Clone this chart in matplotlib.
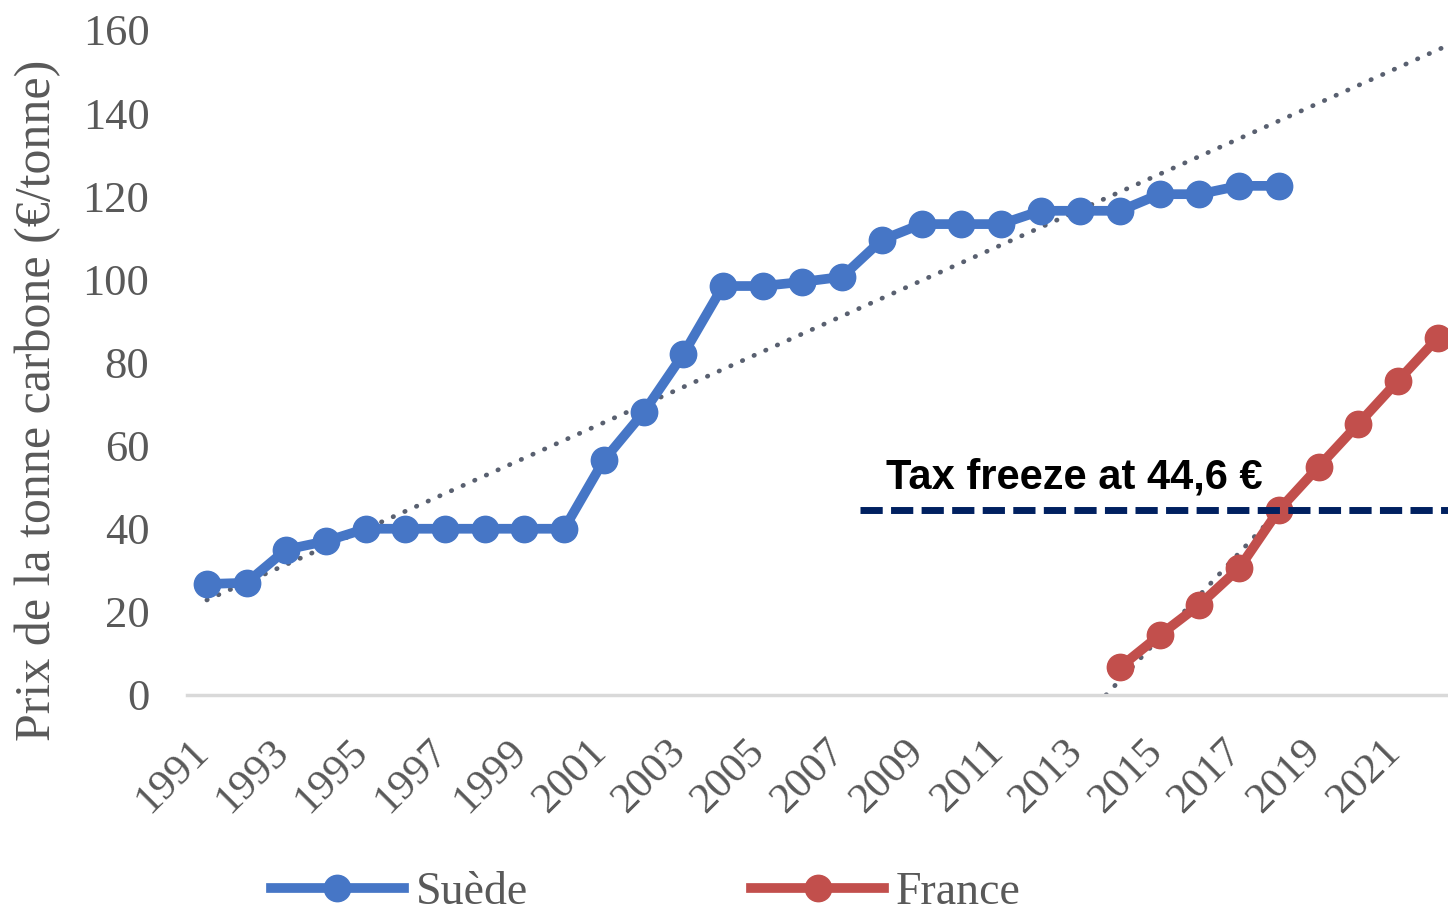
import numpy as np
import matplotlib
matplotlib.use('Agg')
import matplotlib.pyplot as plt
import matplotlib.transforms as mtransforms

# Carbon tax values (EUR / tonne)
years_se = list(range(1991, 2019))
suede = [26.7, 27.0, 35.0, 37.0, 40.0, 40.0, 40.0, 40.0, 40.0, 40.0,
         56.5, 68.0, 82.0, 98.4, 98.4, 99.4, 100.6, 109.5, 113.3, 113.3,
         113.3, 116.5, 116.5, 116.5, 120.5, 120.5, 122.5, 122.5]
years_fr = list(range(2014, 2023))
france = [6.7, 14.4, 21.7, 30.5, 44.5, 54.9, 65.2, 75.6, 85.9]
freeze_value = 44.6
xtick_years = list(range(1991, 2023, 2))
yticks = [0, 20, 40, 60, 80, 100, 120, 140, 160]

BLUE = '#4676C6'
RED = '#C24F4C'
GREY_TXT = '#595959'
NAVY = '#002060'
TREND = '#596070'

fig = plt.figure(figsize=(14.48, 9.13), dpi=100)
ax = fig.add_axes([187 / 1448, 1 - 695 / 913, 1 - 187 / 1448, (695 - 30) / 913])

x_min, x_max = 1990.5, 2022.26

# linear trendlines (Excel-style)
p_se = np.polyfit(years_se, suede, 1)
t_se = np.array([1991, x_max])
ax.plot(t_se, np.polyval(p_se, t_se), color=TREND, lw=3.4, ls=(0, (0.1, 2.6)),
        dash_capstyle='round', zorder=2)
p_fr = np.polyfit(years_fr, france, 1)
t_fr = np.array([-p_fr[1] / p_fr[0], x_max])
ax.plot(t_fr, np.polyval(p_fr, t_fr), color=TREND, lw=3.4, ls=(0, (0.1, 2.6)),
        dash_capstyle='round', zorder=2)

ax.plot(years_se, suede, color=BLUE, lw=7, marker='o', ms=19, label='Suède', zorder=3)
ax.plot(years_fr, france, color=RED, lw=7, marker='o', ms=19, label='France', zorder=3)

# tax freeze line
ax.plot([2007.45, x_max], [freeze_value, freeze_value], color=NAVY, lw=5,
        ls=(0, (3.2, 1.2)), zorder=4)
ax.text(2008.1, freeze_value + 3.0, 'Tax freeze at 44,6 €', fontsize=30,
        fontweight='bold', family='Liberation Sans', color='black', va='bottom', zorder=5)

ax.set_xlim(x_min, x_max)
ax.set_ylim(0, 160)
ax.set_xticks(xtick_years)
ax.set_yticks(yticks)
for s in ['top', 'right', 'left']:
    ax.spines[s].set_visible(False)
ax.spines['bottom'].set_color('#d9d9d9')
ax.spines['bottom'].set_linewidth(2.5)
ax.tick_params(length=0)
ax.tick_params(axis='y', pad=27)
ax.tick_params(axis='x', pad=27)
for lab in ax.get_yticklabels():
    lab.set_family('Liberation Serif')
    lab.set_fontsize(32)
    lab.set_color(GREY_TXT)
shift = mtransforms.ScaledTranslation(10 / 100, 0, fig.dpi_scale_trans)
for lab in ax.get_xticklabels():
    lab.set_family('Liberation Serif')
    lab.set_fontsize(31)
    lab.set_color(GREY_TXT)
    lab.set_rotation(45)
    lab.set_ha('right')
    lab.set_va('top')
    lab.set_transform(lab.get_transform() + shift)

fig.text(38 / 1448, 1 - 400 / 913, 'Prix de la tonne carbone (€/tonne)', rotation=90,
         ha='center', va='center', fontsize=36, family='Liberation Serif', color=GREY_TXT)

leg = fig.legend(loc='center', bbox_to_anchor=(646 / 1448, 1 - 893 / 913), ncol=2,
                 frameon=False, handlelength=2.9, handletextpad=0.26, columnspacing=4.87,
                 prop={'family': 'Liberation Serif', 'size': 33})
for t in leg.get_texts():
    t.set_color(GREY_TXT)

fig.savefig('out.png', dpi=100)
